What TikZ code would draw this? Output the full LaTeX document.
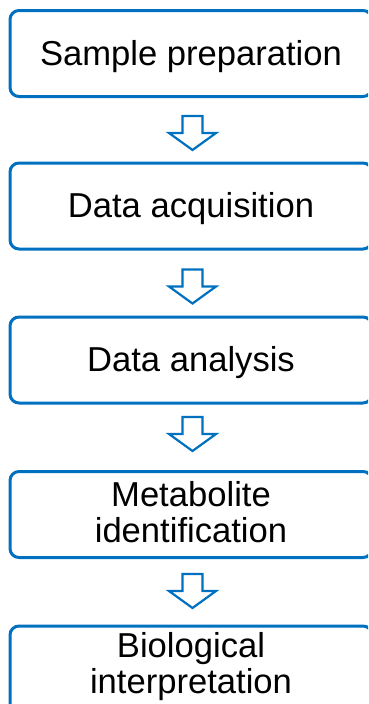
\documentclass[tikz,border=0pt]{standalone}
\usepackage{fontspec}
\setmainfont{Liberation Sans}
\definecolor{flowblue}{RGB}{0,112,192}
\begin{document}
\begin{tikzpicture}[x=1pt,y=1pt,
  stepbox/.style={draw=flowblue, line width=3pt, rounded corners=9pt,
    minimum width=362pt, minimum height=86pt, inner sep=0pt, align=center,
    font=\fontsize{34.6}{36}\selectfont},
  oneline/.style={text height=25pt, text depth=2pt},
  blockarrow/.style={draw=flowblue, line width=2.2pt, fill=white, line join=miter}]
\useasboundingbox (0,0) rectangle (368,-704);
\clip (0,0) rectangle (368,-704);
\fill[white] (0,0) rectangle (368,-704);
\node[stepbox, oneline] (s1) at (191,-53.5) {Sample preparation};
\node[stepbox, oneline] (s2) at (191,-206) {Data acquisition};
\node[stepbox, oneline] (s3) at (191,-360) {Data analysis};
\node[stepbox, text depth=6pt] (s4) at (191,-514.5) {Metabolite\\identification};
\node[stepbox, text depth=13pt] (s5) at (191,-669) {Biological\\interpretation};
\coordinate (a1) at (192.5,-133);
\coordinate (a2) at (192.5,-286.5);
\coordinate (a3) at (192.5,-434);
\coordinate (a4) at (192.5,-591);
\foreach \c in {a1,a2,a3,a4}{
  \draw[blockarrow, shift={(\c)}] (-10,17) -- (10,17) -- (10,0) -- (23.5,0) -- (0,-17) -- (-23.5,0) -- (-10,0) -- cycle;
}
\end{tikzpicture}
\end{document}
